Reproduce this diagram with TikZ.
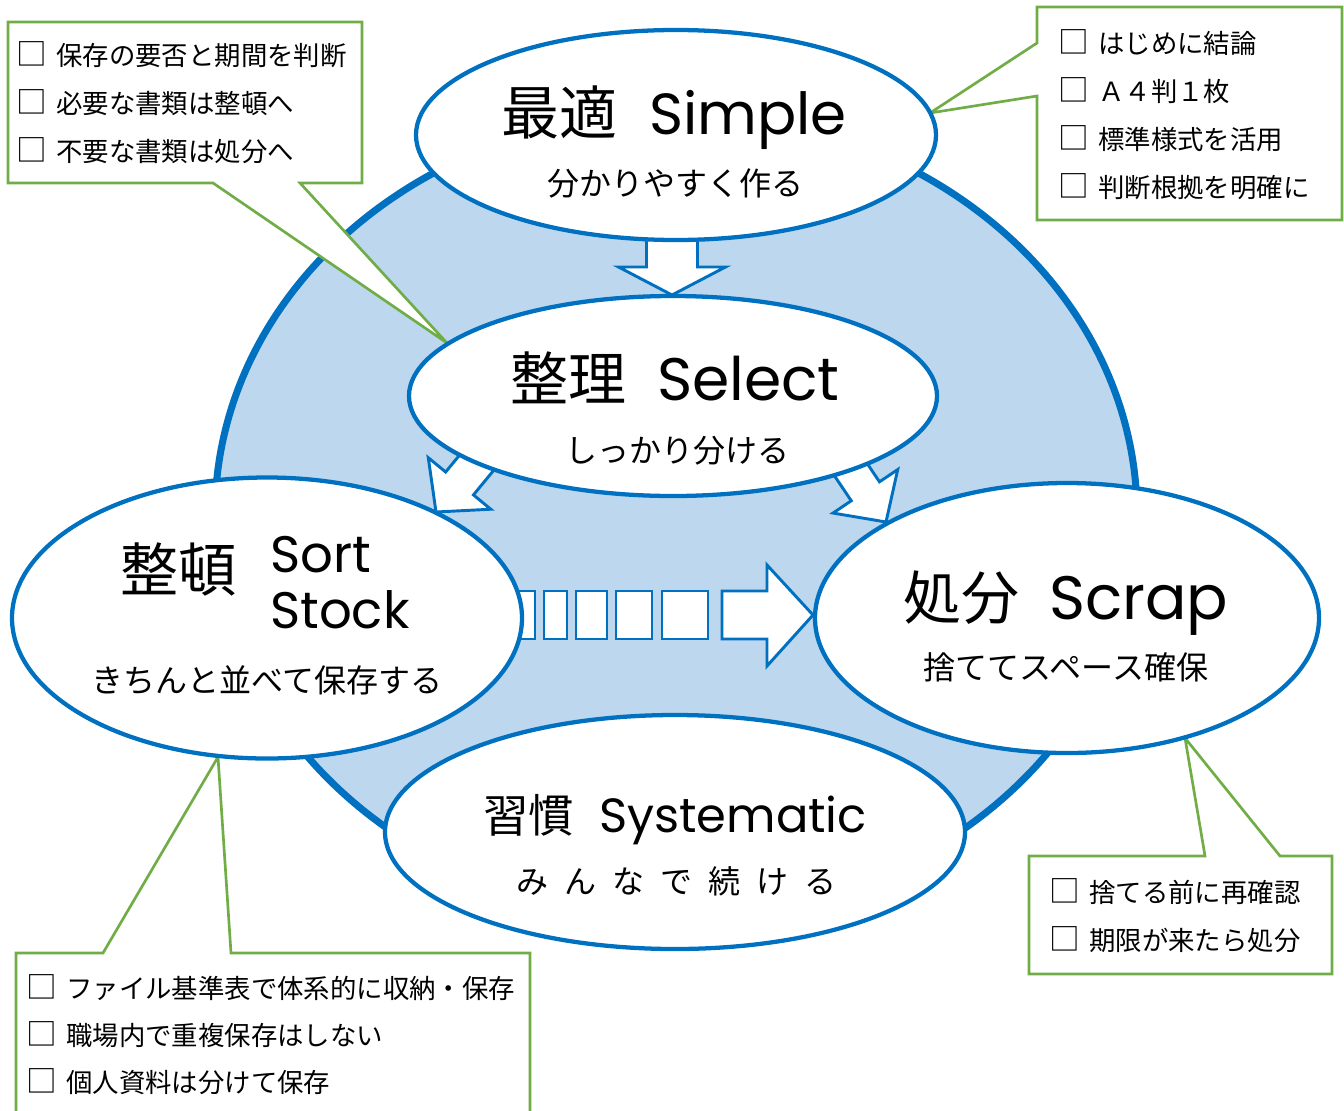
\documentclass[tikz,border=0pt]{standalone}
\usepackage{fontspec}
\setmainfont{Noto Sans CJK JP}
\newfontfamily\latfont{Poppins}
\definecolor{cblue}{HTML}{0070C0}
\definecolor{cfill}{HTML}{BDD7EE}
\definecolor{cgreen}{HTML}{70AD47}
\usetikzlibrary{shapes.geometric}
\tikzset{
  ell/.style={ellipse, draw=cblue, fill=white, line width=3.2pt, inner sep=0pt},
  arrowbox/.style={draw=cblue, fill=white, line width=2.2pt, line join=miter},
  callout/.style={draw=cgreen, fill=white, line width=2pt, line join=miter},
  ttl/.style={inner sep=0pt, anchor=base, font=\fontsize{43.5pt}{50pt}\selectfont},
  sub/.style={inner sep=0pt, anchor=base, font=\fontsize{24pt}{28pt}\selectfont},
  cl/.style={inner sep=0pt, anchor=base west, font=\fontsize{19.8pt}{24pt}\selectfont},
  lat/.style={inner sep=0pt, anchor=base west},
}
\newcommand\LatT[2]{{\latfont\fontsize{#1}{#1}\selectfont #2}}
\newcommand\gp{\hspace{0.5em}}
\newcommand\bx{{\fontsize{23pt}{24pt}\selectfont □}\hspace{7pt}}
\newcommand\BlkArrow[7]{%
  \begin{scope}[shift={(#1,#2)}, rotate=#3]
    \draw[arrowbox] (0,0) -- (-#7,#6) -- (-#7,#5) -- (-#4,#5) -- (-#4,-#5) -- (-#7,-#5) -- (-#7,-#6) -- cycle;
  \end{scope}}
\begin{document}
\begin{tikzpicture}[x=0.75pt, y=-0.75pt]
\useasboundingbox (0,0) rectangle (1344,1110);
\clip (0,0) rectangle (1344,1110);
% big ring
\node[ellipse, draw=cblue, fill=cfill, line width=5.25pt, inner sep=0pt,
      minimum width=922*0.75pt, minimum height=804*0.75pt] (ring) at (676,515) {};
% callouts
\coordinate (tipTL) at (447,343);
\draw[callout] (8,22) -- (362,22) -- (362,183) -- (300,183) -- (tipTL) -- (213,183) -- (8,183) -- cycle;
\coordinate (tipTR) at (930,113);
\draw[callout] (1037,7) -- (1342,7) -- (1342,220) -- (1037,220) -- (1037,96) -- (tipTR) -- (1037,43) -- cycle;
\coordinate (tipBL) at (218,757);
\draw[callout] (16,953) -- (103,953) -- (tipBL) -- (231,953) -- (530,953) -- (530,1130) -- (16,1130) -- cycle;
\coordinate (tipBR) at (1185,738);
\draw[callout] (1029,856) -- (1205,856) -- (tipBR) -- (1280,856) -- (1332,856) -- (1332,974) -- (1029,974) -- cycle;
% callout texts
\node[cl] (a1) at (16,65) {\bx 保存の要否と期間を判断};
\node[cl] (a2) at (16,113) {\bx 必要な書類は整頓へ};
\node[cl] (a3) at (16,161) {\bx 不要な書類は処分へ};
\node[cl] (b1) at (1058,53) {\bx はじめに結論};
\node[cl] (b2) at (1058,101) {\bx Ａ４判１枚};
\node[cl] (b3) at (1058,149) {\bx 標準様式を活用};
\node[cl] (b4) at (1058,197) {\bx 判断根拠を明確に};
\node[cl] (c1) at (26,998) {\bx ファイル基準表で体系的に収納・保存};
\node[cl] (c2) at (26,1045) {\bx 職場内で重複保存はしない};
\node[cl] (c3) at (26,1092) {\bx 個人資料は分けて保存};
\node[cl] (d1) at (1049,902) {\bx 捨てる前に再確認};
\node[cl] (d2) at (1049,950) {\bx 期限が来たら処分};
% block arrows
\BlkArrow{672}{295}{270}{75}{25.5}{53.5}{28}
\BlkArrow{436}{512}{230.5}{80}{18}{40.5}{37}
\BlkArrow{886}{522}{303.9}{80}{17}{39}{37}
% striped arrow
\foreach \a/\b in {516/535, 544/567, 576/607, 616/652, 662/708}
  \draw[arrowbox] (\a,591) rectangle (\b,639);
\draw[arrowbox] (722,591) -- (767,591) -- (767,565) -- (813,615) -- (767,666) -- (767,639) -- (722,639) -- cycle;
% ellipses
\node[ell, minimum width=520*0.75pt, minimum height=210*0.75pt] (simple) at (676,135) {};
\node[ell, minimum width=528*0.75pt, minimum height=200*0.75pt] (select) at (673,396) {};
\node[ell, minimum width=510*0.75pt, minimum height=281*0.75pt] (sort) at (267,618) {};
\node[ell, minimum width=504*0.75pt, minimum height=270*0.75pt] (scrap) at (1067,618) {};
\node[ell, minimum width=580*0.75pt, minimum height=234*0.75pt] (system) at (675,832) {};
% ellipse texts
\node[ttl] (t1) at (674,134) {最適\hspace{24pt}\LatT{43.5pt}{Simple}};
\node[sub] (s1) at (675,195) {分かりやすく作る};
\node[ttl] (t2) at (675,400) {整理\hspace{23pt}\LatT{45pt}{Select}};
\node[sub] (s2) at (677,462) {しっかり分ける};
\node[ttl, anchor=base west] (t3) at (120,591) {整頓};
\node[lat] (t3a) at (270,572) {\LatT{38.5pt}{Sort}};
\node[lat] (t3b) at (270,628) {\LatT{38.5pt}{Stock}};
\node[sub] (s3) at (267,692) {きちんと並べて保存する};
\node[ttl] (t4) at (1066,619) {処分\hspace{22pt}\LatT{46pt}{Scrap}};
\node[sub] (s4) at (1066,679) {捨ててスペース確保};
\node[ttl, font=\fontsize{34pt}{40pt}\selectfont] (t5) at (675,832) {習慣\hspace{19pt}\LatT{36pt}{Systematic}};
\node[sub] (s5) at (676,893) {み\gp ん\gp な\gp で\gp 続\gp け\gp る};
\end{tikzpicture}
\end{document}
